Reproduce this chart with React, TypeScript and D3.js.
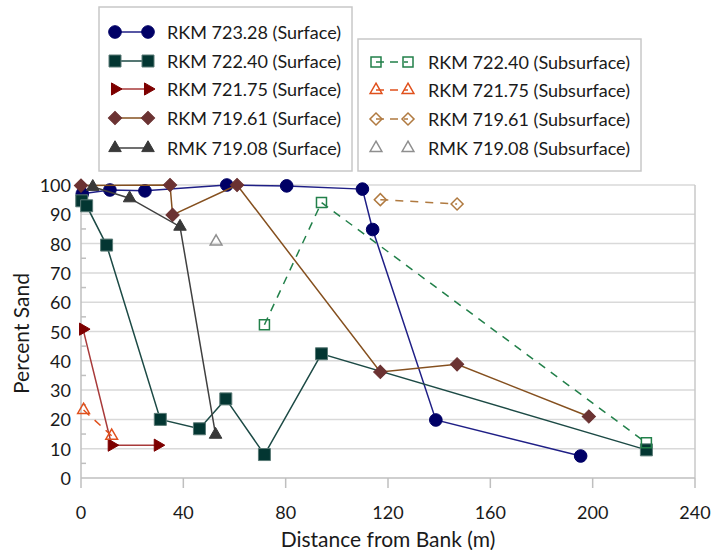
import React from "react";
import * as d3 from "d3";

// Percent sand by distance from bank, surface and subsurface samples
const rkm72328SurfDist = [0.5, 11.3, 25, 57, 80.4, 110, 114, 138.7, 195.3];
const rkm72328SurfSand = [97, 98.3, 98, 100, 99.7, 98.6, 84.8, 19.8, 7.5];

const rkm72240SurfDist = [0.3, 2.2, 10, 31, 46.3, 56.6, 71.7, 94, 221];
const rkm72240SurfSand = [94.6, 92.9, 79.5, 20, 16.8, 27, 8, 42.4, 9.6];

const rkm72175SurfDist = [0.8, 12, 30];
const rkm72175SurfSand = [50.8, 11.2, 11.2];

const rkm71961SurfDist = [0, 34.8, 35.8, 61, 117, 147, 198.5];
const rkm71961SurfSand = [99.8, 100, 89.8, 100, 36.2, 38.8, 21];

const rmk71908SurfDist = [4.6, 19, 38.7, 52.6];
const rmk71908SurfSand = [99.4, 95.5, 85.8, 14.8];

const rkm72240SubDist = [71.7, 94, 221];
const rkm72240SubSand = [52.3, 94, 12];

const rkm72175SubDist = [1, 12];
const rkm72175SubSand = [23.2, 14.4];

const rkm71961SubDist = [117, 147];
const rkm71961SubSand = [95, 93.5];

const rmk71908SubDist = [52.8];
const rmk71908SubSand = [80.7];

const xTicks = [0, 40, 80, 120, 160, 200, 240];
const yTicks = [0, 10, 20, 30, 40, 50, 60, 70, 80, 90, 100];
const yMinorTicks = [5, 15, 25, 35, 45, 55, 65, 75, 85, 95];

type Shape = "circle" | "square" | "triRight" | "diamond" | "triUp";

interface Series {
  name: string;
  dist: number[];
  sand: number[];
  shape: Shape;
  fill: string;
  stroke: string;
  line: string | null;
  dashed: boolean;
  open: boolean;
}

const surfaceSeries: Series[] = [
  { name: "RKM 723.28 (Surface)", dist: rkm72328SurfDist, sand: rkm72328SurfSand, shape: "circle", fill: "#000066", stroke: "#000066", line: "#1f1f86", dashed: false, open: false },
  { name: "RKM 722.40 (Surface)", dist: rkm72240SurfDist, sand: rkm72240SurfSand, shape: "square", fill: "#033632", stroke: "#5a7a76", line: "#1c4a45", dashed: false, open: false },
  { name: "RKM 721.75 (Surface)", dist: rkm72175SurfDist, sand: rkm72175SurfSand, shape: "triRight", fill: "#7d0000", stroke: "#7d0000", line: "#a83a3a", dashed: false, open: false },
  { name: "RKM 719.61 (Surface)", dist: rkm71961SurfDist, sand: rkm71961SurfSand, shape: "diamond", fill: "#6b3232", stroke: "#6b3232", line: "#85501f", dashed: false, open: false },
  { name: "RMK 719.08 (Surface)", dist: rmk71908SurfDist, sand: rmk71908SurfSand, shape: "triUp", fill: "#383838", stroke: "#383838", line: "#404040", dashed: false, open: false },
];

const subsurfaceSeries: Series[] = [
  { name: "RKM 722.40 (Subsurface)", dist: rkm72240SubDist, sand: rkm72240SubSand, shape: "square", fill: "none", stroke: "#22804a", line: "#22804a", dashed: true, open: true },
  { name: "RKM 721.75 (Subsurface)", dist: rkm72175SubDist, sand: rkm72175SubSand, shape: "triUp", fill: "none", stroke: "#e0501c", line: "#e0501c", dashed: true, open: true },
  { name: "RKM 719.61 (Subsurface)", dist: rkm71961SubDist, sand: rkm71961SubSand, shape: "diamond", fill: "none", stroke: "#b07a40", line: "#b07a40", dashed: true, open: true },
  { name: "RMK 719.08 (Subsurface)", dist: rmk71908SubDist, sand: rmk71908SubSand, shape: "triUp", fill: "none", stroke: "#8f8f8f", line: null, dashed: false, open: true },
];

const FONT = "Lato, 'Open Sans', sans-serif";
const TEXT = "#1a1a1a";

const plot = { left: 81, right: 695, top: 185, bottom: 478 };
const x = d3.scaleLinear().domain([0, 240]).range([plot.left, plot.right]);
const y = d3.scaleLinear().domain([0, 100]).range([plot.bottom, plot.top]);

function markerPath(shape: Shape, open: boolean): { d: string; rotate: number } {
  switch (shape) {
    case "circle":
      return { d: d3.symbol(d3.symbolCircle, 125)()!, rotate: 0 };
    case "square":
      return { d: d3.symbol(d3.symbolSquare, open ? 100 : 144)()!, rotate: 0 };
    case "diamond":
      return { d: d3.symbol(d3.symbolSquare, open ? 72 : 88)()!, rotate: 45 };
    case "triRight":
      return { d: d3.symbol(d3.symbolTriangle, 64)()!, rotate: 90 };
    case "triUp":
    default:
      return { d: d3.symbol(d3.symbolTriangle, open ? 60 : 68)()!, rotate: 0 };
  }
}

function Marker({ s, cx, cy }: { s: Series; cx: number; cy: number }) {
  const m = markerPath(s.shape, s.open);
  return (
    <path
      d={m.d}
      transform={`translate(${cx},${cy}) rotate(${m.rotate})`}
      fill={s.fill}
      stroke={s.stroke}
      strokeWidth={s.open ? 1.5 : 1}
    />
  );
}

function SeriesMarks({ s }: { s: Series }) {
  const pts = s.dist.map((d, i) => [x(d), y(s.sand[i])] as [number, number]);
  const line = d3.line();
  return (
    <g>
      {s.line && pts.length > 1 && (
        <path
          d={line(pts)!}
          fill="none"
          stroke={s.line}
          strokeWidth={1.5}
          strokeDasharray={s.dashed ? "8,7" : undefined}
        />
      )}
      {pts.map((p, i) => (
        <Marker key={i} s={s} cx={p[0]} cy={p[1]} />
      ))}
    </g>
  );
}

function LegendRow({ s, x1, x2, cy, tx }: { s: Series; x1: number; x2: number; cy: number; tx: number }) {
  return (
    <g>
      {s.line && (
        <line
          x1={x1}
          x2={x2}
          y1={cy}
          y2={cy}
          stroke={s.line}
          strokeWidth={1.5}
          strokeDasharray={s.dashed ? "8,6" : undefined}
        />
      )}
      <Marker s={s} cx={x1} cy={cy} />
      <Marker s={s} cx={x2} cy={cy} />
      <text x={tx} y={cy} dominantBaseline="central" fontSize={18} fill={TEXT} fontFamily={FONT}>
        {s.name}
      </text>
    </g>
  );
}

export default function App() {
  const legend1Rows = [32, 61, 89, 118, 148];
  const legend2Rows = [62, 90, 119, 148];
  return (
    <svg
      width={725}
      height={550}
      style={{ position: "absolute", left: 0, top: 0, background: "#ffffff" }}
      fontFamily={FONT}
    >
      {/* gridlines */}
      {yTicks.filter((t) => t > 0).map((t) => (
        <line key={t} x1={plot.left} x2={plot.right} y1={y(t)} y2={y(t)} stroke="#d9d9d9" strokeWidth={1.5} />
      ))}
      {/* plot frame */}
      <line x1={plot.right} x2={plot.right} y1={plot.top} y2={plot.bottom} stroke="#c8c8c8" strokeWidth={1.5} />
      {/* axes */}
      <line x1={plot.left} x2={plot.left} y1={plot.top} y2={plot.bottom} stroke="#bfbfbf" strokeWidth={1.5} />
      <line x1={plot.left} x2={plot.right} y1={plot.bottom} y2={plot.bottom} stroke="#bfbfbf" strokeWidth={1.5} />
      {yMinorTicks.map((t) => (
        <line key={t} x1={plot.left} x2={plot.left + 5} y1={y(t)} y2={y(t)} stroke="#bfbfbf" strokeWidth={1.5} />
      ))}
      {xTicks.map((t) => (
        <line key={t} x1={x(t)} x2={x(t)} y1={plot.bottom} y2={plot.bottom + 10} stroke="#bfbfbf" strokeWidth={1.5} />
      ))}
      {/* tick labels */}
      {yTicks.map((t) => (
        <text key={t} x={71} y={y(t)} textAnchor="end" dominantBaseline="central" fontSize={18} fill={TEXT}>
          {t}
        </text>
      ))}
      {xTicks.map((t) => (
        <text key={t} x={x(t)} y={512} textAnchor="middle" dominantBaseline="central" fontSize={18} fill={TEXT}>
          {t}
        </text>
      ))}
      {/* axis titles */}
      <text x={(plot.left + plot.right) / 2} y={538} textAnchor="middle" dominantBaseline="central" fontSize={21} fill={TEXT}>
        Distance from Bank (m)
      </text>
      <text
        transform={`translate(20,${(plot.top + plot.bottom) / 2 + 2}) rotate(-90)`}
        textAnchor="middle"
        dominantBaseline="central"
        fontSize={21}
        fill={TEXT}
      >
        Percent Sand
      </text>

      {/* data */}
      {surfaceSeries.map((s) => (
        <SeriesMarks key={s.name} s={s} />
      ))}
      {subsurfaceSeries.map((s) => (
        <SeriesMarks key={s.name} s={s} />
      ))}

      {/* legends */}
      <rect x={99} y={7} width={253} height={164} fill="#ffffff" stroke="#c8c8c8" strokeWidth={1.5} />
      {surfaceSeries.map((s, i) => (
        <LegendRow key={s.name} s={s} x1={115} x2={148} cy={legend1Rows[i]} tx={167} />
      ))}
      <rect x={358} y={39} width={283} height={132} fill="#ffffff" stroke="#c8c8c8" strokeWidth={1.5} />
      {subsurfaceSeries.map((s, i) => (
        <LegendRow key={s.name} s={s} x1={376} x2={408} cy={legend2Rows[i]} tx={428} />
      ))}
    </svg>
  );
}
